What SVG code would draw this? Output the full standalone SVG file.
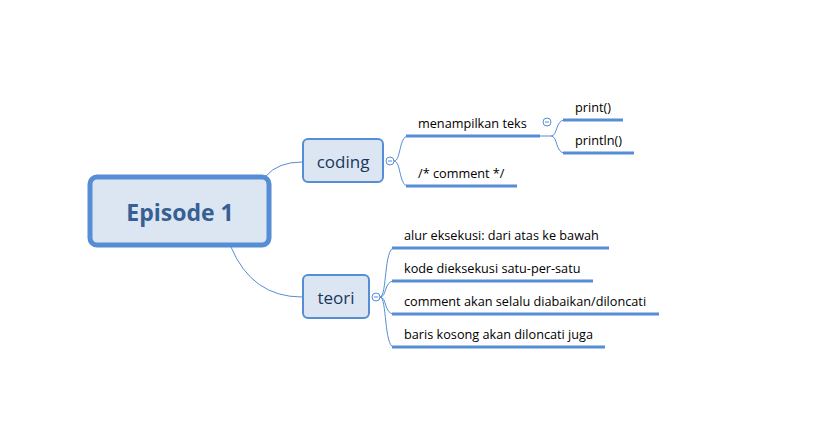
<svg xmlns="http://www.w3.org/2000/svg" width="819" height="426" viewBox="0 0 819 426">
<style>
.bg{fill:#ffffff}
.conn{fill:none;stroke:#558ed5;stroke-width:1}
.ul{fill:none;stroke:#558ed5;stroke-width:3}
.node{fill:#dce6f2;stroke:#558ed5;stroke-width:2}
.root{fill:#dce6f2;stroke:#558ed5;stroke-width:5}
.tc{font-family:"Open Sans","Noto Sans",sans-serif;fill:#17375e}
.tl{font-family:"Open Sans","Noto Sans",sans-serif;font-size:12.7px;fill:#000000}
.col{fill:#ffffff;stroke:#558ed5;stroke-width:1}
.minus{stroke:#558ed5;stroke-width:1}
</style>
<rect class="bg" x="0" y="0" width="819" height="426"/>
<g id="connectors">
<path class="conn" d="M266,176 Q278,162 302,162"/>
<path class="conn" d="M231,247 Q252,297 302,297"/>
<path class="conn" d="M394,161 C401,161 399,136 408,136"/>
<path class="conn" d="M394,161 C401,161 399,186 408,186"/>
<path class="conn" d="M539,136 L551,136"/>
<path class="conn" d="M551,136 C558,136 555,120 565,120"/>
<path class="conn" d="M551,136 C558,136 555,153 565,153"/>
<path class="conn" d="M380,297 C387,297 384,248 394,248"/>
<path class="conn" d="M380,297 C387,297 384,281 394,281"/>
<path class="conn" d="M380,297 C387,297 384,314 394,314"/>
<path class="conn" d="M380,297 C387,297 384,347 394,347"/>
</g>
<g id="root">
<rect class="root" x="90" y="177" width="179" height="68" rx="7"/>
<text class="tc" x="180" y="221" text-anchor="middle" font-size="23" font-weight="bold" style="fill:#376092">Episode 1</text>
</g>
<g id="coding">
<rect class="node" x="303" y="139" width="80" height="43" rx="5"/>
<text class="tc" x="343" y="168" text-anchor="middle" font-size="17">coding</text>
<circle class="col" cx="390" cy="161" r="4"/>
<line class="minus" x1="388" y1="161" x2="392" y2="161"/>
</g>
<g id="teori">
<rect class="node" x="303" y="275" width="66" height="43" rx="5"/>
<text class="tc" x="336" y="304" text-anchor="middle" font-size="17">teori</text>
<circle class="col" cx="376" cy="297" r="4"/>
<line class="minus" x1="374" y1="297" x2="378" y2="297"/>
</g>
<g id="menampilkan">
<text class="tl" x="418" y="128">menampilkan teks</text>
<line class="ul" x1="406" y1="136" x2="540" y2="136"/>
<circle class="col" cx="547" cy="122" r="4"/>
<line class="minus" x1="545" y1="122" x2="549" y2="122"/>
</g>
<g id="print">
<text class="tl" x="575" y="112">print()</text>
<line class="ul" x1="563" y1="120" x2="623" y2="120"/>
</g>
<g id="println">
<text class="tl" x="575" y="145">println()</text>
<line class="ul" x1="563" y1="153" x2="634" y2="153"/>
</g>
<g id="comment">
<text class="tl" x="418" y="178">/* comment */</text>
<line class="ul" x1="406" y1="186" x2="517" y2="186"/>
</g>
<g id="alur">
<text class="tl" x="404" y="240">alur eksekusi: dari atas ke bawah</text>
<line class="ul" x1="392" y1="248" x2="609" y2="248"/>
</g>
<g id="kode">
<text class="tl" x="404" y="273">kode dieksekusi satu-per-satu</text>
<line class="ul" x1="392" y1="281" x2="593" y2="281"/>
</g>
<g id="commentakan">
<text class="tl" x="404" y="306">comment akan selalu diabaikan/diloncati</text>
<line class="ul" x1="392" y1="314" x2="659" y2="314"/>
</g>
<g id="baris">
<text class="tl" x="404" y="339">baris kosong akan diloncati juga</text>
<line class="ul" x1="392" y1="347" x2="605" y2="347"/>
</g>
</svg>
